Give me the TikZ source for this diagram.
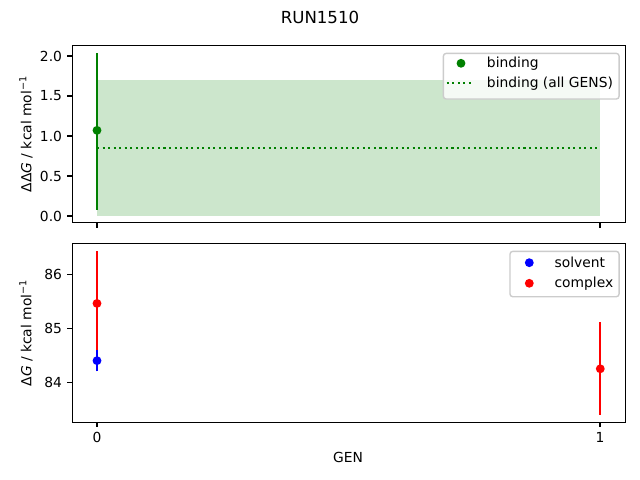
\documentclass[tikz,border=0pt]{standalone}
\usepackage{fontspec}
\setmainfont{DejaVu Sans}
\usepackage{xcolor}
\usepackage{tikz}
\usetikzlibrary{positioning}
\definecolor{mplgreen}{RGB}{0,128,0}
\definecolor{mplblue}{RGB}{0,0,255}
\definecolor{mplred}{RGB}{255,0,0}
\definecolor{legendedge}{RGB}{204,204,204}
\tikzset{
  axisframe/.style={line width=0.8pt},
  errbar/.style={line width=1.5pt},
  ticklabel/.style={inner sep=3.5pt},
  legendbox/.style={draw=legendedge,fill=white,fill opacity=0.8,line width=1pt,rounded corners=2pt},
  legendtext/.style={anchor=west,inner sep=0pt}
}
\begin{document}
\begin{tikzpicture}[x=0.01in,y=-0.01in,font=\fontsize{10}{12}\selectfont]
			\useasboundingbox (0,0) rectangle (640,480);
			% Title
			\node (title) at (320,17) {\fontsize{12}{14}\selectfont RUN1510};
			% Top panel: data
			\begin{scope}[shift={(97,216)},x=5.03in,y=0.8in]
			\fill[mplgreen,opacity=0.2] (0,0) rectangle (1,1.70);
			\draw[mplgreen,line width=1.5pt,dash pattern=on 1.5pt off 2.5pt] (0,0.85) -- (1,0.85);
			\draw[mplgreen,errbar] (0,0.08) -- (0,2.04);
			\fill[mplgreen] (0,1.07) circle (3.2pt);
			\end{scope}
			% Top panel: axes
			\draw[axisframe] (72.3,45.3) rectangle (625.7,222.7);
			\foreach \v in {0.0,0.5,1.0,1.5,2.0}
			\draw[axisframe] (72.3,{216-80*\v}) -- ++(-4.9,0) node [left,ticklabel] (ytop\v) {\v};
			\foreach \x in {97,600}
			\draw[axisframe] (\x,222.7) -- ++(0,4.9);
			\node[rotate=90] (ylabtop) at (26,134) {ΔΔ\textit{G} / kcal mol\textsuperscript{−1}};
			% Top legend
			\node[legendbox,minimum width=1.756in,minimum height=0.456in,anchor=north west] (legtop) at (442.7,52.7) {};
			\fill[mplgreen] (461,63.3) circle (3.2pt);
			\node[legendtext] (legbinding) at (486.7,63.3) {binding};
			\draw[mplgreen,line width=1.5pt,dash pattern=on 1.5pt off 2.5pt] (446.7,83.3) -- (473.3,83.3);
			\node[legendtext] (legall) at (486.7,83.3) {binding (all GENS)};
			% Bottom panel: data (values minus 84)
			\begin{scope}[shift={(97,382.3)},x=5.03in,y=0.54in]
			\draw[mplred,errbar] (0,0.49) -- (0,2.43);
			\fill[mplred] (0,1.46) circle (3.2pt);
			\draw[mplblue,errbar] (0,0.20) -- (0,0.60);
			\fill[mplblue] (0,0.40) circle (3.2pt);
			\draw[mplred,errbar] (1,-0.60) -- (1,1.11);
			\fill[mplred] (1,0.25) circle (3.2pt);
			\end{scope}
			% Bottom panel: axes
			\draw[axisframe] (72.3,243.3) rectangle (625.7,422.3);
			\foreach \v in {84,85,86}
			\draw[axisframe] (72.3,{382.3-54*(\v-84)}) -- ++(-4.9,0) node [left,ticklabel] (ybot\v) {\v};
			\draw[axisframe] (97,422.3) -- ++(0,4.9) node [below,ticklabel] (xtick0) {0};
			\draw[axisframe] (600,422.3) -- ++(0,4.9) node [below,ticklabel] (xtick1) {1};
			\node[rotate=90] (ylabbot) at (26,333) {Δ\textit{G} / kcal mol\textsuperscript{−1}};
			\node (xlab) at (348,457) {GEN};
			% Bottom legend
			\node[legendbox,minimum width=1.09in,minimum height=0.453in,anchor=north west] (legbot) at (509.3,250.7) {};
			\fill[mplblue] (529.3,262.7) circle (3.2pt);
			\node[legendtext] (legsolvent) at (554.3,262.7) {solvent};
			\fill[mplred] (529.3,283.3) circle (3.2pt);
			\node[legendtext] (legcomplex) at (554.3,283.3) {complex};
		\end{tikzpicture}
\end{document}
